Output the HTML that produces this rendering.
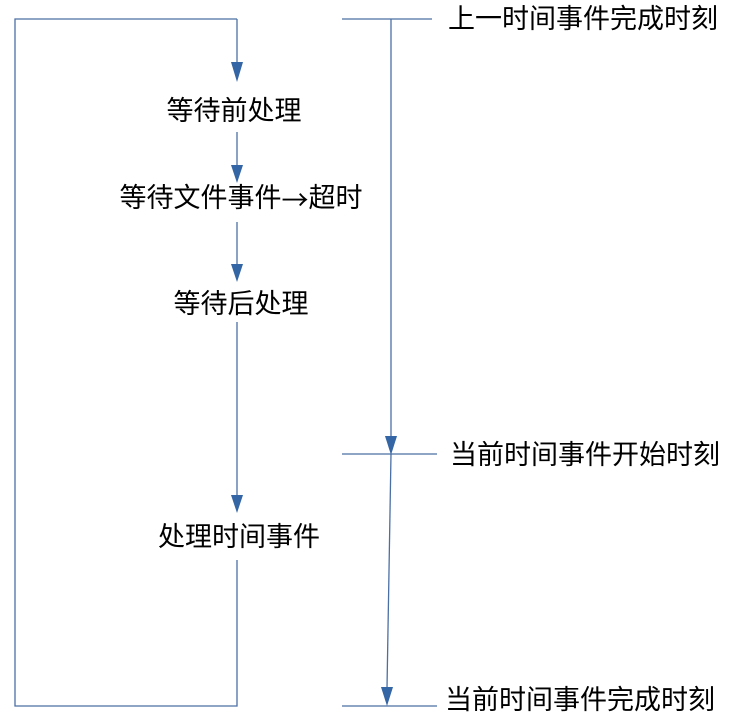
<!DOCTYPE html>
<html><head><meta charset="utf-8"><style>
body{margin:0;background:#fff;}
svg text{font-family:"Liberation Sans","Noto Sans CJK SC",sans-serif;font-size:27px;fill:#000;dominant-baseline:central;}
</style></head><body>
<svg width="733" height="722" xmlns="http://www.w3.org/2000/svg">
<g stroke="#4a6fa5" stroke-width="1.3" fill="none">
<polyline points="237,19 15,19 15,706 237,706 237,560"/>
<path d="M237,19 V62"/><path d="M237,132 V165"/><path d="M237,222 V264"/><path d="M237,322 V495"/>
<path d="M342,19 H432"/><path d="M391,19 V438"/>
<path d="M342,454 H437"/><path d="M391,454 L387,688"/>
<path d="M342,706 H437"/>
</g>
<g fill="#3465a4">
<path d="M231,62 L243,62 L237,82 Z"/>
<path d="M231,165 L243,165 L237,183 Z"/>
<path d="M231,264 L243,264 L237,282 Z"/>
<path d="M231,495 L243,495 L237,513 Z"/>
<path d="M385,436 L397,436 L391,455 Z"/>
<path d="M381,687 L393,687 L387,706 Z"/>
</g>
<text x="234" y="111" text-anchor="middle">等待前处理</text>
<text x="241" y="198" text-anchor="middle">等待文件事件<tspan style='font-family:"Noto Sans CJK SC",sans-serif'>→</tspan>超时</text>
<text x="241" y="304" text-anchor="middle">等待后处理</text>
<text x="239" y="537" text-anchor="middle">处理时间事件</text>
<text x="448" y="19">上一时间事件完成时刻</text>
<text x="450" y="455">当前时间事件开始时刻</text>
<text x="445" y="700">当前时间事件完成时刻</text>
</svg>
</body></html>
